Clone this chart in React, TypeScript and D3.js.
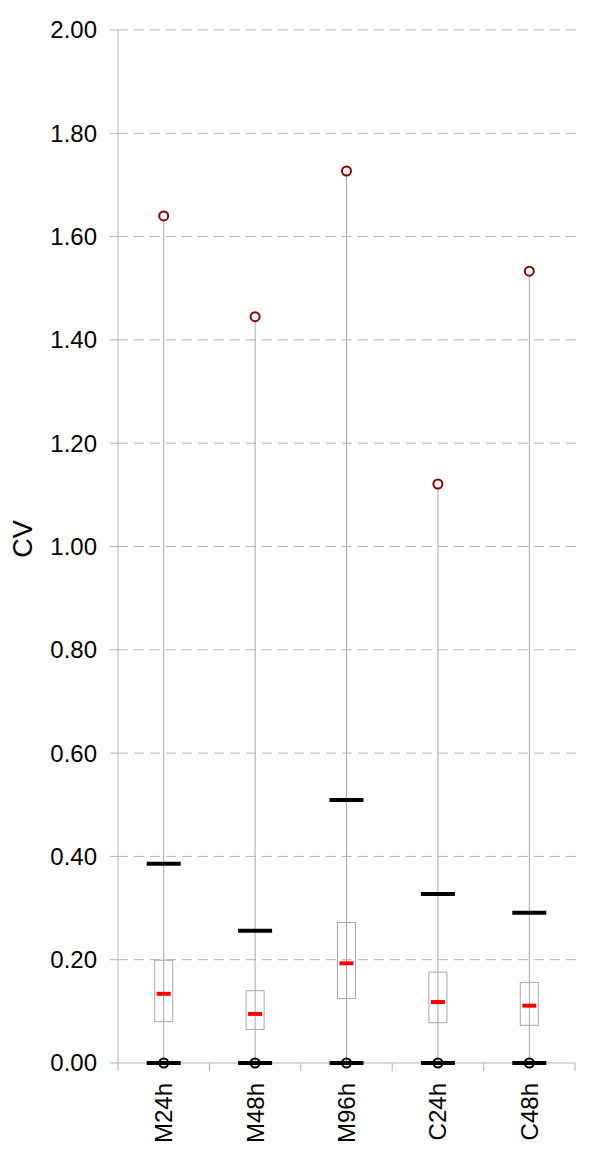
import React from "react";
import * as d3 from "d3";

const categories = ["M24h", "M48h", "M96h", "C24h", "C48h"];
const maxOutlier = [1.64, 1.445, 1.727, 1.121, 1.533];
const upperBar = [0.386, 0.256, 0.509, 0.327, 0.291];
const q3 = [0.199, 0.14, 0.272, 0.176, 0.156];
const median = [0.134, 0.095, 0.193, 0.118, 0.111];
const q1 = [0.08, 0.065, 0.125, 0.078, 0.073];
const lowerBar = [0, 0, 0, 0, 0];
const minOutlier = [0, 0, 0, 0, 0];
const yTicks = [0, 0.2, 0.4, 0.6, 0.8, 1.0, 1.2, 1.4, 1.6, 1.8, 2.0];

const W = 600;
const H = 1156;
const left = 118;
const right = 575;
const top = 30;
const bottom = 1063;
const font = "'Liberation Sans', Arial, sans-serif";

export default function App() {
  const y = d3.scaleLinear().domain([0, 2]).range([bottom, top]);
  const x = d3.scaleBand<string>().domain(categories).range([left, right]).padding(0);
  const cx = (c: string) => (x(c) as number) + x.bandwidth() / 2;
  const grid = "#b4b4b4";
  return (
    <svg width={W} height={H} style={{ position: "absolute", left: 0, top: 0 }}>
      <rect width={W} height={H} fill="#fff" />
      {yTicks.map((t) => (
        <g key={t}>
          {t > 0 && (
            <line x1={left} x2={578} y1={y(t)} y2={y(t)} stroke={grid} strokeWidth={1} strokeDasharray="10,6" />
          )}
          <line x1={110} x2={left} y1={y(t)} y2={y(t)} stroke={grid} strokeWidth={1} />
          <text x={97} y={y(t)} dy="0.35em" textAnchor="end" fontFamily={font} fontSize={24} fill="#000">
            {t.toFixed(2)}
          </text>
        </g>
      ))}
      <line x1={left} x2={left} y1={top} y2={bottom + 8} stroke={grid} strokeWidth={1} />
      <line x1={left} x2={right} y1={bottom} y2={bottom} stroke={grid} strokeWidth={1} />
      {categories.map((c) => (
        <line key={"t" + c} x1={(x(c) as number) + x.bandwidth()} x2={(x(c) as number) + x.bandwidth()} y1={bottom} y2={bottom + 8} stroke={grid} strokeWidth={1} />
      ))}
      <text transform={`translate(32,539) rotate(-90)`} textAnchor="middle" fontFamily={font} fontSize={27} fill="#000">
        CV
      </text>
      {categories.map((c, i) => {
        const X = cx(c);
        return (
          <g key={c}>
            <line x1={X} x2={X} y1={y(maxOutlier[i])} y2={y(0)} stroke="#a8a8a8" strokeWidth={1} />
            <rect x={X - 9} y={y(q3[i])} width={18} height={y(q1[i]) - y(q3[i])} fill="none" stroke="#a8a8a8" strokeWidth={1} />
            <line x1={X - 7} x2={X + 7} y1={y(median[i])} y2={y(median[i])} stroke="#ff0000" strokeWidth={4} />
            <line x1={X - 17} x2={X + 17} y1={y(upperBar[i])} y2={y(upperBar[i])} stroke="#000" strokeWidth={4} />
            <line x1={X - 17} x2={X + 17} y1={y(lowerBar[i])} y2={y(lowerBar[i])} stroke="#000" strokeWidth={4} />
            <circle cx={X} cy={y(minOutlier[i])} r={4.5} fill="none" stroke="#000" strokeWidth={2} />
            <circle cx={X} cy={y(maxOutlier[i])} r={4.5} fill="#fff" stroke="#8b0000" strokeWidth={2} />
            <text transform={`translate(${X},1083) rotate(-90)`} dy="0.35em" textAnchor="end" fontFamily={font} fontSize={24} fill="#000">
              {c}
            </text>
          </g>
        );
      })}
    </svg>
  );
}
